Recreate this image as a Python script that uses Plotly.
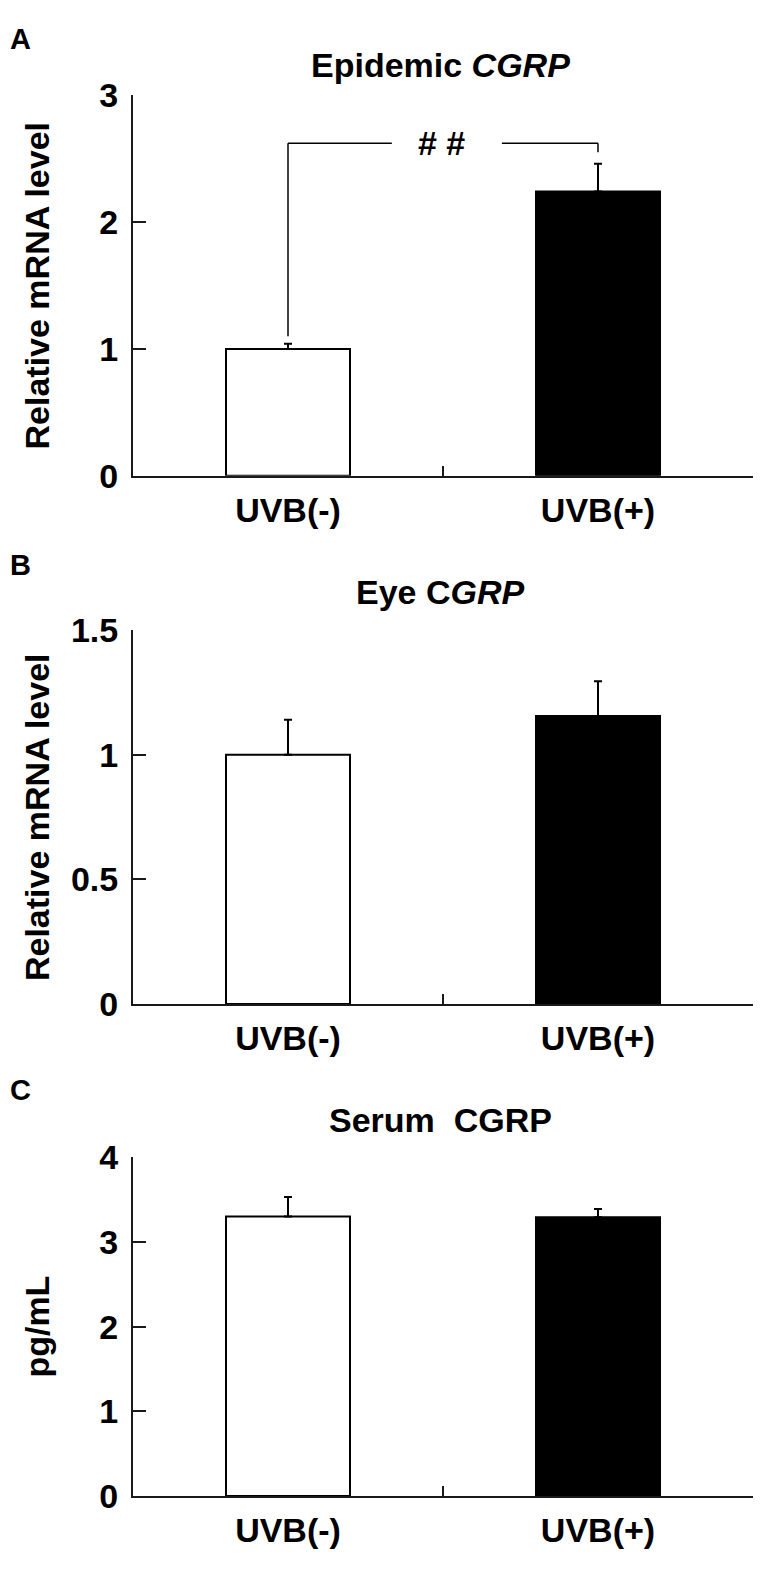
import plotly.graph_objects as go

# ---------------- data ----------------
categories = ["UVB(-)", "UVB(+)"]

epi_values = [1.00, 2.24]
epi_errors = [0.04, 0.22]

eye_values = [1.00, 1.155]
eye_errors = [0.14, 0.14]

serum_values = [3.30, 3.29]
serum_errors = [0.23, 0.10]

epi_ticks = [0, 1, 2, 3]
eye_ticks = [0, 0.5, 1, 1.5]
eye_tick_text = ["0", "0.5", "1", "1.5"]
serum_ticks = [0, 1, 2, 3, 4]

# significance bracket (panel A)
sig_level = 2.62
sig_left_drop = 1.10
sig_right_drop = 2.55
sig_text = "# #"

# ---------------- styles ----------------
W, H = 764, 1596
FONT = "Liberation Sans"
fill_colors = ["white", "black"]
AX_COLOR = "#1a1a1a"

def py(px):
    return 1 - px / H

def px_x(px):
    return px / W

panels = [
    dict(vals=epi_values, errs=epi_errors, ticks=epi_ticks, ticktext=[str(t) for t in epi_ticks],
         rng=[0, 3], dom=[py(468), py(78)], title="Epidemic <i>CGRP</i>", title_y=47,
         ytitle="Relative mRNA level", letter="A", letter_y=20),
    dict(vals=eye_values, errs=eye_errors, ticks=eye_ticks, ticktext=eye_tick_text,
         rng=[0, 1.5], dom=[py(1009), py(626)], title="Eye C<i>GRP</i>", title_y=587,
         ytitle="Relative mRNA level", letter="B", letter_y=559),
    dict(vals=serum_values, errs=serum_errors, ticks=serum_ticks, ticktext=[str(t) for t in serum_ticks],
         rng=[0, 4], dom=[py(1513), py(1166)], title="Serum  CGRP", title_y=1128,
         ytitle="pg/mL", letter="C", letter_y=1097),
]

fig = go.Figure()
x_dom = [px_x(133), px_x(753)]
annotations = []
shapes = []

for i, p in enumerate(panels):
    n = "" if i == 0 else str(i + 1)
    xa, ya = "x" + n, "y" + n
    fig.add_trace(go.Bar(
        x=categories, y=p["vals"], xaxis=xa, yaxis=ya, width=0.40,
        marker=dict(color=fill_colors, line=dict(color="black", width=2)),
        error_y=dict(type="data", array=p["errs"], arrayminus=[0] * len(p["errs"]),
                     symmetric=False, color="black", thickness=2, width=4),
        showlegend=False,
    ))
    common_x = dict(domain=x_dom, anchor=ya, type="category", range=[-0.5, 1.5],
                    showline=True, linecolor=AX_COLOR, linewidth=2,
                    ticks="inside", tickson="boundaries", ticklen=10, tickwidth=2, tickcolor=AX_COLOR,
                    tickfont=dict(family=FONT, size=34, color="black", weight="bold"),
                    ticklabelstandoff=3, showgrid=False, zeroline=False)
    common_y = dict(domain=p["dom"], anchor=xa, range=p["rng"], tickmode="array",
                    tickvals=p["ticks"], ticktext=p["ticktext"],
                    showline=True, linecolor=AX_COLOR, linewidth=2,
                    ticks="inside", ticklen=13, tickwidth=2, tickcolor=AX_COLOR,
                    tickfont=dict(family=FONT, size=34, color="black", weight="bold"),
                    ticklabelstandoff=6, showgrid=False, zeroline=False)
    fig.update_layout(**{("xaxis" + n): common_x, ("yaxis" + n): common_y})

    annotations.append(dict(text=p["title"], xref="paper", yref="paper", x=px_x(440), y=py(p["title_y"]),
                            xanchor="center", yanchor="middle", showarrow=False,
                            font=dict(family=FONT, size=34, color="black", weight="bold")))
    annotations.append(dict(text=p["ytitle"], xref="paper", yref="paper", x=px_x(37),
                            y=(p["dom"][0] + p["dom"][1]) / 2, textangle=-90,
                            xanchor="center", yanchor="middle", showarrow=False,
                            font=dict(family=FONT, size=34, color="black", weight="bold")))
    annotations.append(dict(text=p["letter"], xref="paper", yref="paper", x=px_x(20), y=py(p["letter_y"]),
                            xanchor="center", yanchor="middle", showarrow=False,
                            font=dict(family=FONT, size=29, color="black", weight="bold")))

# significance bracket on panel A
line_style = dict(color="black", width=1.5)
shapes += [
    dict(type="line", xref="x", yref="y", x0=0, x1=0, y0=sig_left_drop, y1=sig_level, line=line_style),
    dict(type="line", xref="x", yref="y", x0=0, x1=0.335, y0=sig_level, y1=sig_level, line=line_style),
    dict(type="line", xref="x", yref="y", x0=0.69, x1=1, y0=sig_level, y1=sig_level, line=line_style),
    dict(type="line", xref="x", yref="y", x0=1, x1=1, y0=sig_right_drop, y1=sig_level, line=line_style),
]
annotations.append(dict(text=sig_text, xref="x", yref="y", x=0.495, y=sig_level, xanchor="center",
                        yanchor="middle", showarrow=False,
                        font=dict(family=FONT, size=34, color="black", weight="bold")))

fig.update_layout(width=W, height=H, margin=dict(l=0, r=0, t=0, b=0),
                  paper_bgcolor="white", plot_bgcolor="white",
                  annotations=annotations, shapes=shapes, bargap=0.2)

fig.write_html("out.html", config={"displayModeBar": False},
               post_script="document.body.style.margin='0px';")
